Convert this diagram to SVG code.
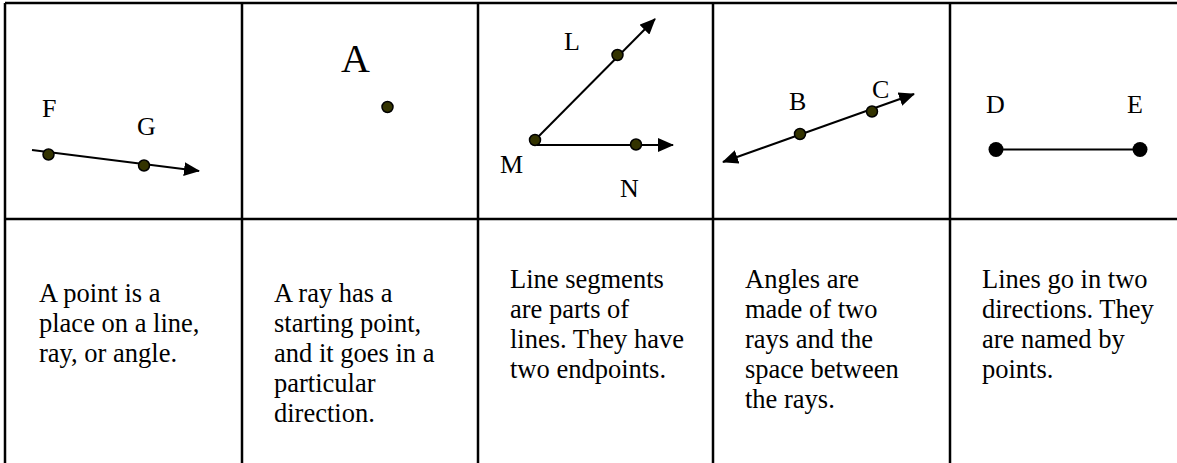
<svg xmlns="http://www.w3.org/2000/svg" width="1177" height="463" viewBox="0 0 1177 463">
<style>
.grid{stroke:#000;stroke-width:2.5;fill:none}
.ray{stroke:#000;stroke-width:2;fill:none}
.pt{fill:#333300;stroke:#000;stroke-width:1.5}
.ept{fill:#000}
.lbl{font-family:"Liberation Serif",serif;font-size:26px;fill:#000}
.big{font-family:"Liberation Serif",serif;font-size:40px;fill:#000}
.body{font-family:"Liberation Serif",serif;font-size:26.5px;fill:#000}
</style>
<defs>
<marker id="arr" markerUnits="userSpaceOnUse" markerWidth="16" markerHeight="14" refX="15" refY="7" orient="auto-start-reverse">
<path d="M0,0 L16,7 L0,14 z" fill="#000"/>
</marker>
</defs>
<rect width="1177" height="463" fill="#fff"/>
<g id="grid" class="grid">
<line x1="5" y1="3" x2="1177" y2="3"/>
<line x1="5" y1="219" x2="1177" y2="219"/>
<line x1="5" y1="3" x2="5" y2="463"/>
<line x1="242" y1="3" x2="242" y2="463"/>
<line x1="478" y1="3" x2="478" y2="463"/>
<line x1="713" y1="3" x2="713" y2="463"/>
<line x1="950" y1="3" x2="950" y2="463"/>
</g>
<g id="connectors">
<line class="ray" x1="32" y1="150" x2="199" y2="171" marker-end="url(#arr)"/>
<line class="ray" x1="535" y1="140" x2="655" y2="19" marker-end="url(#arr)"/>
<line class="ray" x1="537" y1="145" x2="673" y2="145" marker-end="url(#arr)"/>
<line class="ray" x1="723" y1="162" x2="914" y2="94" marker-start="url(#arr)" marker-end="url(#arr)"/>
<line x1="996" y1="149.5" x2="1140" y2="149.5" stroke="#000" stroke-width="1.8"/>
</g>
<g id="cell-ray">
<circle class="pt" cx="48.5" cy="154.5" r="5.5"/>
<circle class="pt" cx="144" cy="165.5" r="5.5"/>
<text class="lbl" x="42" y="117">F</text>
<text class="lbl" x="137" y="135">G</text>
</g>
<g id="cell-point">
<circle class="pt" cx="387.5" cy="107" r="5.5"/>
<text class="big" x="341" y="72">A</text>
</g>
<g id="cell-angle">
<circle class="pt" cx="535" cy="140" r="5.5"/>
<circle class="pt" cx="617.5" cy="55" r="5.5"/>
<circle class="pt" cx="636" cy="144.5" r="5.5"/>
<text class="lbl" x="564" y="50">L</text>
<text class="lbl" x="500" y="173">M</text>
<text class="lbl" x="620" y="197">N</text>
</g>
<g id="cell-line">
<circle class="pt" cx="800" cy="134" r="5.5"/>
<circle class="pt" cx="872" cy="111.5" r="5.5"/>
<text class="lbl" x="789" y="110">B</text>
<text class="lbl" x="872" y="98">C</text>
</g>
<g id="cell-segment">
<circle class="ept" cx="996" cy="149.5" r="7.5"/>
<circle class="ept" cx="1140" cy="149.5" r="7.5"/>
<text class="lbl" x="986" y="113">D</text>
<text class="lbl" x="1127" y="113">E</text>
</g>
<g id="text-1"><text class="body" y="302"><tspan x="39">A point is a</tspan><tspan x="39" dy="30">place on a line,</tspan><tspan x="39" dy="30">ray, or angle.</tspan></text></g>
<g id="text-2"><text class="body" y="302"><tspan x="274">A ray has a</tspan><tspan x="274" dy="30">starting point,</tspan><tspan x="274" dy="30">and it goes in a</tspan><tspan x="274" dy="30">particular</tspan><tspan x="274" dy="30">direction.</tspan></text></g>
<g id="text-3"><text class="body" y="288"><tspan x="510">Line segments</tspan><tspan x="510" dy="30">are parts of</tspan><tspan x="510" dy="30">lines. They have</tspan><tspan x="510" dy="30">two endpoints.</tspan></text></g>
<g id="text-4"><text class="body" y="288"><tspan x="745">Angles are</tspan><tspan x="745" dy="30">made of two</tspan><tspan x="745" dy="30">rays and the</tspan><tspan x="745" dy="30">space between</tspan><tspan x="745" dy="30">the rays.</tspan></text></g>
<g id="text-5"><text class="body" y="288"><tspan x="982">Lines go in two</tspan><tspan x="982" dy="30">directions. They</tspan><tspan x="982" dy="30">are named by</tspan><tspan x="982" dy="30">points.</tspan></text></g>
</svg>
